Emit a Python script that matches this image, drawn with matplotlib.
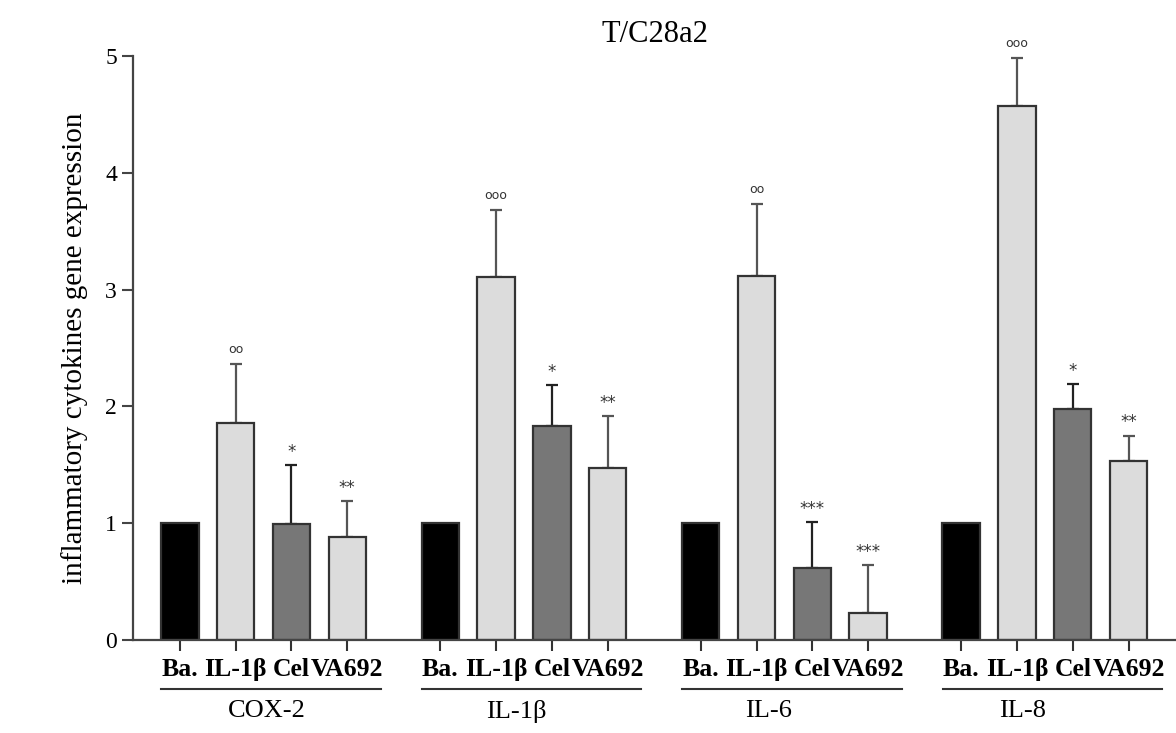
import matplotlib
matplotlib.use("Agg")
import matplotlib.pyplot as plt
import matplotlib.transforms as mtransforms

plt.rcParams['font.family'] = ['Liberation Serif', 'DejaVu Serif']

genes = ['COX-2', 'IL-1\u03b2', 'IL-6', 'IL-8']
treatments = ['Ba.', 'IL-1\u03b2', 'Cel', 'VA692']

means = [
    [1.0, 1.86, 0.99, 0.88],
    [1.0, 3.11, 1.83, 1.47],
    [1.0, 3.12, 0.62, 0.23],
    [1.0, 4.57, 1.98, 1.53],
]
errors = [
    [0.0, 0.50, 0.51, 0.31],
    [0.0, 0.57, 0.35, 0.45],
    [0.0, 0.61, 0.39, 0.41],
    [0.0, 0.41, 0.21, 0.22],
]
marks = [
    ['', 'oo', '*', '**'],
    ['', 'ooo', '*', '**'],
    ['', 'oo', '***', '***'],
    ['', 'ooo', '*', '**'],
]

bar_colors = ['#000000', '#dcdcdc', '#777777', '#dcdcdc']
err_colors = ['#000000', '#555555', '#222222', '#555555']
group_gap = 14 / 3
label_shift = [1.55, 1.37, 1.21, 1.10]

fig = plt.figure(figsize=(11.76, 7.33), dpi=100)
ax = fig.add_axes([133 / 1176, 93 / 733, 1 - 133 / 1176, 584 / 733])

tick_pos = []
tick_lab = []
trans = mtransforms.blended_transform_factory(ax.transData, ax.transAxes)
for g, gene in enumerate(genes):
    x0 = g * group_gap
    for i in range(4):
        x = x0 + i
        ax.bar(x, means[g][i], width=0.67, color=bar_colors[i],
               edgecolor='#333333', linewidth=1.6, zorder=2)
        if errors[g][i] > 0:
            ax.errorbar(x, means[g][i], yerr=[[0], [errors[g][i]]], fmt='none',
                        ecolor=err_colors[i], elinewidth=1.6, capsize=4.5,
                        capthick=1.6, zorder=1)
        if marks[g][i]:
            top = means[g][i] + errors[g][i]
            if 'o' in marks[g][i]:
                ax.annotate(marks[g][i], (x, top), xytext=(0, 6),
                            textcoords='offset points', ha='center', va='bottom',
                            fontsize=9, family='DejaVu Sans', color='#333333')
            else:
                ax.annotate(marks[g][i], (x, top), xytext=(0, 3),
                            textcoords='offset points', ha='center', va='bottom',
                            fontsize=12, family='DejaVu Sans', color='#333333')
        tick_pos.append(x)
        tick_lab.append(treatments[i])

    ax.plot([x0 - 0.33, x0 + 3.6], [-0.084, -0.084], color='#333333',
            linewidth=1.5, transform=trans, clip_on=False)
    ax.text(x0 + label_shift[g], -0.122, gene, transform=trans, ha='center',
            va='center', fontsize=19)

ax.set_xticks(tick_pos)
ax.set_xticklabels(tick_lab, fontsize=18.5, fontweight='bold')
ax.set_xlim(-0.84, 17.85)
ax.set_ylim(0, 5)
ax.set_yticks([0, 1, 2, 3, 4, 5])
ax.tick_params(axis='y', labelsize=17, length=8, width=1.5, color='#444444')
ax.tick_params(axis='x', length=8, width=1.5, color='#333333', pad=5)

for side in ['top', 'right']:
    ax.spines[side].set_visible(False)
for side in ['left', 'bottom']:
    ax.spines[side].set_linewidth(1.6)
    ax.spines[side].set_color('#444444')

ax.set_ylabel('inflammatory cytokines gene expression', fontsize=21, labelpad=12)
ax.set_title('T/C28a2', fontsize=22, pad=10)

fig.savefig('out.png', dpi=100)
